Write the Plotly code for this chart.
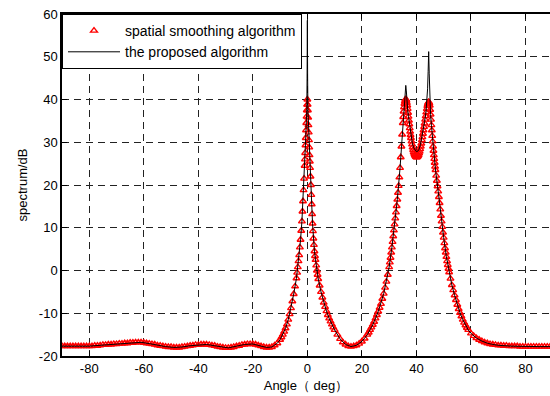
import plotly.graph_objects as go

# ---- spatial smoothing algorithm (red triangles) ----
red_angle = [
    -90, -89, -88, -87, -86, -85, -84, -83, -82, -81, -80, -79, -78, -77, -76, -75, -74, -73, -72, -71,
    -70, -69, -68, -67, -66, -65, -64, -63, -62, -61, -60, -59, -58, -57, -56, -55, -54, -53, -52, -51,
    -50, -49, -48, -47, -46, -45, -44, -43, -42, -41, -40, -39, -38, -37, -36, -35, -34, -33, -32, -31,
    -30, -29, -28, -27, -26, -25, -24, -23, -22, -21, -20, -19, -18, -17, -16, -15,
    -14, -13, -12, -11, -10, -9.5, -9, -8.5, -8, -7.5, -7, -6.5, -6, -5.5, -5, -4.5, -4, -3.75, -3.5, -3.25,
    -3, -2.75, -2.5, -2.25, -2, -1.8, -1.6, -1.4, -1.2, -1, -0.9, -0.8, -0.7, -0.6, -0.5, -0.4, -0.3, -0.2, -0.1, 0,
    0.1, 0.2, 0.3, 0.4, 0.5, 0.6, 0.7, 0.8, 0.9, 1.0, 1.15, 1.3, 1.45, 1.6, 1.75, 1.9, 2.05, 2.2, 2.4, 2.6,
    2.8, 3.0, 3.25, 3.5, 3.75, 4.0, 4.5, 5, 5.5, 6, 6.5, 7, 7.5, 8, 8.5, 9, 9.5, 10, 11, 12,
    13, 14, 15, 16, 17, 18, 19, 20, 21, 22, 22.5, 23, 23.5, 24, 24.5, 25, 25.5, 26, 26.5, 27,
    27.5, 28, 28.5, 29, 29.5, 30, 30.25, 30.5, 30.75, 31, 31.25, 31.5, 31.75, 32, 32.25, 32.5, 32.75, 33, 33.25, 33.5,
    33.75, 34, 34.25, 34.5, 34.75, 35, 35.15, 35.3, 35.45, 35.6, 35.75, 35.9, 36.05, 36.2, 36.35, 36.5, 36.65, 36.8, 36.95, 37.1,
    37.25, 37.4, 37.55, 37.7, 37.85, 38, 38.2, 38.4, 38.6, 38.8, 39.0, 39.2, 39.4, 39.6, 39.8, 40.0, 40.2, 40.4, 40.6, 40.8,
    41.0, 41.2, 41.4, 41.6, 41.8, 42.0, 42.2, 42.4, 42.6, 42.8, 43.0, 43.2, 43.4, 43.6, 43.8, 44.0, 44.15, 44.3, 44.45, 44.6,
    44.75, 44.9, 45.05, 45.2, 45.35, 45.5, 45.65, 45.8, 45.95, 46.1, 46.25, 46.4, 46.55, 46.7, 46.85, 47.0, 47.25, 47.5, 47.75, 48,
    48.25, 48.5, 48.75, 49, 49.25, 49.5, 49.75, 50, 50.25, 50.5, 50.75, 51, 51.25, 51.5, 51.75, 52, 52.5, 53, 53.5, 54,
    54.5, 55, 55.5, 56, 56.5, 57, 57.5, 58, 58.5, 59, 60, 61, 62, 63, 64, 65, 66, 67, 68, 69,
    70, 71, 72, 73, 74, 75, 76, 77, 78, 79, 80, 81, 82, 83, 84, 85, 86, 87, 88, 89, 90,
]
red_db = [
    -17.7, -17.7, -17.7, -17.7, -17.7, -17.7, -17.7, -17.7, -17.7, -17.7, -17.7, -17.7, -17.6, -17.6, -17.5, -17.4, -17.4, -17.3, -17.3, -17.2,
    -17.2, -17.1, -17.1, -17.0, -17.0, -16.9, -16.9, -16.8, -16.8, -16.8, -16.9, -17.0, -17.1, -17.2, -17.3, -17.5, -17.6, -17.7, -17.8, -17.9,
    -17.9, -18.0, -18.0, -18.0, -17.9, -17.8, -17.7, -17.6, -17.5, -17.4, -17.4, -17.3, -17.3, -17.3, -17.4, -17.5, -17.6, -17.8, -17.9, -18.0,
    -18.1, -18.1, -18.0, -17.9, -17.7, -17.6, -17.4, -17.3, -17.2, -17.2, -17.2, -17.3, -17.5, -17.7, -17.9, -18.0,
    -18.0, -17.9, -17.5, -17.0, -16.2, -15.6, -15.0, -14.3, -13.5, -12.6, -11.5, -10.2, -8.8, -7.2, -5.5, -3.7, -1.8, -0.5, 0.8, 2.2,
    3.6, 5.4, 7.2, 9.3, 11.5, 13.8, 16.2, 18.8, 21.5, 24.5, 26.0, 27.5, 29.3, 31.0, 32.8, 34.5, 36.0, 37.5, 38.8, 40.0,
    38.8, 37.5, 35.8, 34.0, 32.3, 30.5, 28.8, 27.0, 25.5, 24.0, 22.0, 20.0, 17.7, 15.5, 13.2, 11.0, 9.2, 7.5, 6.0, 4.5,
    3.4, 2.5, 1.2, 0.0, -1.0, -2.0, -3.5, -5.0, -6.3, -7.5, -8.5, -9.5, -10.4, -11.2, -11.9, -12.6, -13.3, -13.9, -15.0, -16.0,
    -16.8, -17.3, -17.7, -17.8, -17.7, -17.5, -17.1, -16.6, -15.9, -15.0, -14.5, -13.9, -13.3, -12.7, -12.0, -11.2, -10.4, -9.6, -8.7, -7.8,
    -6.6, -5.4, -4.0, -2.6, -1.0, 0.8, 1.9, 3.0, 4.2, 5.4, 6.7, 8.0, 9.4, 10.8, 12.2, 13.6, 15.1, 16.6, 18.2, 19.8,
    21.8, 24.0, 26.5, 29.0, 31.8, 34.5, 35.9, 37.2, 38.2, 39.0, 39.5, 39.9, 40.0, 40.0, 39.7, 39.2, 38.6, 37.8, 36.9, 36.0,
    35.1, 34.2, 33.3, 32.5, 31.7, 31.0, 30.2, 29.5, 28.8, 28.2, 27.7, 27.3, 27.0, 26.8, 26.6, 26.5, 26.5, 26.6, 26.8, 27.0,
    27.4, 27.8, 28.4, 29.0, 29.7, 30.5, 31.2, 32.0, 32.8, 33.6, 34.4, 35.3, 36.1, 37.0, 37.8, 38.5, 38.9, 39.2, 39.4, 39.4,
    39.1, 38.6, 37.6, 36.5, 35.3, 34.0, 32.8, 31.5, 30.2, 29.0, 28.0, 27.0, 26.1, 25.2, 24.3, 23.5, 22.2, 21.0, 19.7, 18.5,
    17.2, 15.8, 14.3, 12.8, 11.5, 10.2, 8.9, 7.7, 6.4, 5.2, 4.2, 3.2, 2.2, 1.3, 0.4, -0.4, -1.9, -3.4, -4.6, -5.8,
    -6.9, -8.0, -9.0, -9.9, -10.7, -11.5, -12.2, -12.8, -13.4, -13.9, -14.7, -15.3, -15.8, -16.2, -16.5, -16.8, -17.0, -17.2, -17.3, -17.4,
    -17.5, -17.5, -17.6, -17.6, -17.7, -17.7, -17.7, -17.7, -17.8, -17.8, -17.8, -17.8, -17.8, -17.8, -17.8, -17.8, -17.8, -17.8, -17.8, -17.8, -17.8,
]

# ---- the proposed algorithm (black line) ----
black_angle = [
    -90, -85, -80, -76, -72, -68, -64, -61, -58, -55, -52, -49, -46, -43, -40, -37, -34, -31, -29, -26,
    -23, -20, -17, -15, -13, -12, -11, -10, -9, -8, -7, -6, -5, -4, -3.5, -3, -2.5, -2, -1.6, -1.2,
    -1, -0.8, -0.6, -0.4, -0.2, -0.1, 0, 0.1, 0.2, 0.4, 0.6, 0.8, 1.0, 1.3, 1.6, 1.9, 2.2, 2.6, 3.0, 3.5,
    4, 5, 6, 7, 8, 9, 10, 12, 14, 16, 18, 20, 22, 24, 26, 28, 29, 30, 31, 32,
    33, 34, 34.5, 35, 35.5, 35.8, 36.1, 36.3, 36.5, 36.8, 37.1, 37.5, 38, 38.5, 39, 39.5, 40, 40.5, 41, 41.5,
    42, 42.5, 43, 43.5, 43.8, 44.1, 44.3, 44.5, 44.7, 44.9, 45.2, 45.5, 46, 46.5, 47, 48, 49, 50, 51, 52,
    53, 54, 55, 56, 57, 58, 59, 60, 62, 64, 66, 68, 70, 75, 80, 85, 90,
]
black_db = [
    -17.7, -17.7, -17.7, -17.5, -17.3, -17.1, -16.9, -16.8, -17.1, -17.5, -17.8, -18.0, -17.9, -17.6, -17.4, -17.3, -17.6, -18.0, -18.1, -17.7,
    -17.3, -17.2, -17.7, -18.0, -17.9, -17.5, -17.0, -16.2, -15.0, -13.5, -11.5, -8.8, -5.5, -1.8, 0.8, 3.6, 7.2, 11.5, 16.2, 21.5,
    24.5, 27.5, 31.0, 34.5, 37.8, 45.0, 58.5, 45.0, 37.8, 34.0, 30.5, 27.0, 24.0, 20.0, 15.5, 11.0, 7.5, 4.5, 2.5, 0.0,
    -2.0, -5.0, -7.5, -9.5, -11.2, -12.6, -13.9, -16.0, -17.3, -17.8, -17.5, -16.6, -15.0, -12.7, -9.6, -5.4, -2.6, 0.8, 5.4, 10.8,
    16.6, 24.0, 29.0, 34.5, 38.6, 41.0, 43.3, 42.0, 39.5, 37.5, 36.0, 33.8, 31.5, 29.8, 28.7, 28.1, 27.8, 27.9, 28.4, 29.5,
    31.0, 32.8, 34.8, 37.0, 39.0, 42.5, 46.5, 51.2, 46.0, 40.5, 36.5, 34.0, 29.8, 26.5, 23.5, 18.5, 12.8, 7.7, 3.2, -0.4,
    -3.4, -5.8, -8.0, -9.9, -11.5, -12.8, -13.9, -14.7, -15.8, -16.5, -17.0, -17.3, -17.5, -17.7, -17.8, -17.8, -17.8,
]

x_ticks = [-80, -60, -40, -20, 0, 20, 40, 60, 80]
y_ticks = [-20, -10, 0, 10, 20, 30, 40, 50, 60]

FONT = "Liberation Sans, Arial, sans-serif"

fig = go.Figure()
fig.add_trace(go.Scatter(
    x=red_angle, y=red_db, mode="markers", name="spatial smoothing algorithm",
    marker=dict(symbol="triangle-up-open", size=6, color="red", line=dict(width=1.4, color="red")),
))
fig.add_trace(go.Scatter(
    x=black_angle, y=black_db, mode="lines", name="the proposed algorithm",
    line=dict(color="black", width=1),
))

fig.update_layout(
    width=550, height=396,
    margin=dict(l=62, r=0, t=14, b=40),
    paper_bgcolor="white", plot_bgcolor="white",
    font=dict(family=FONT, size=13, color="black"),
    showlegend=True,
    legend=dict(
        x=0, y=1, xanchor="left", yanchor="top",
        bgcolor="white", bordercolor="black", borderwidth=1,
        font=dict(family=FONT, size=14, color="black"),
        tracegroupgap=0, itemwidth=52,
    ),
)
fig.update_xaxes(
    range=[-90, 89], tickvals=x_ticks, ticktext=[str(v) for v in x_ticks],
    showgrid=True, gridcolor="#222222", griddash="7px,5px", gridwidth=1,
    showline=True, linecolor="black", linewidth=1.5, mirror="ticks",
    ticks="inside", ticklen=5, tickcolor="black",
    zeroline=False,
    title=dict(text="Angle（ deg）", font=dict(family=FONT, size=13), standoff=6),
    tickfont=dict(family=FONT, size=13),
)
fig.update_yaxes(
    range=[-20, 60], tickvals=y_ticks, ticktext=[str(v) for v in y_ticks],
    showgrid=True, gridcolor="#222222", griddash="7px,5px", gridwidth=1,
    showline=True, linecolor="black", linewidth=1.5, mirror=False,
    ticks="inside", ticklen=5, tickcolor="black",
    zeroline=False,
    title=dict(text="spectrum/dB", font=dict(family=FONT, size=13), standoff=8),
    tickfont=dict(family=FONT, size=13),
)

fig.write_html("out.html")
